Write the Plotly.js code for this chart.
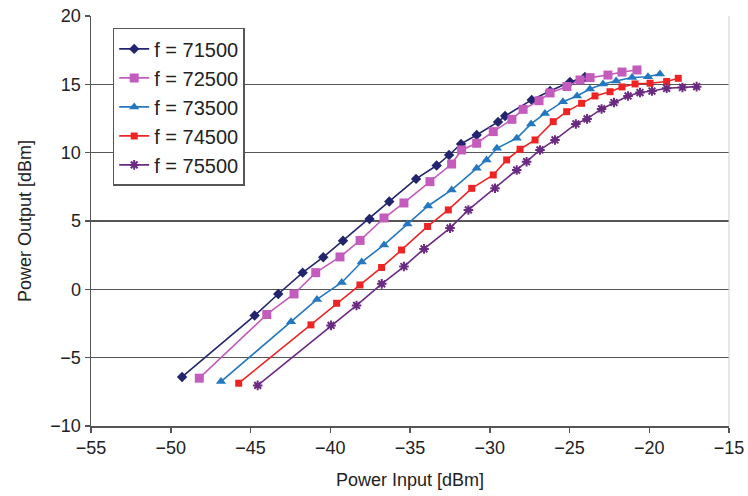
<!DOCTYPE html>
<html>
<head>
<meta charset="utf-8">
<script src="https://cdn.plot.ly/plotly-3.0.1.min.js"></script>
<style>html,body{margin:0;padding:0;background:#fff;}#chart{width:748px;height:496px;}</style>
</head>
<body>
<div id="chart"></div>
<script>
// Power Input [dBm] / Power Output [dBm] per frequency
const names = ["f = 71500", "f = 72500", "f = 73500", "f = 74500", "f = 75500"];

const x71500 = [-49.29,-44.74,-43.26,-41.73,-40.44,-39.20,-37.54,-36.30,-34.62,-33.33,-32.55,-31.80,-30.82,-29.48,-29.04,-27.37,-26.22,-24.97,-24.03];
const y71500 = [-6.41,-1.92,-0.34,1.22,2.35,3.56,5.15,6.43,8.08,9.06,9.83,10.64,11.29,12.25,12.68,13.86,14.51,15.17,15.54];

const x72500 = [-48.21,-43.98,-42.27,-40.91,-39.39,-38.13,-36.63,-35.38,-33.75,-32.39,-31.76,-30.82,-29.78,-28.61,-27.91,-26.91,-26.22,-25.16,-24.34,-23.71,-22.59,-21.71,-20.77];
const y72500 = [-6.50,-1.84,-0.34,1.22,2.37,3.58,5.22,6.32,7.88,9.17,10.20,10.69,11.54,12.44,13.17,13.80,14.37,14.84,15.32,15.49,15.68,15.90,16.05];

const x73500 = [-46.85,-42.46,-40.83,-39.28,-38.03,-36.63,-35.16,-33.87,-32.39,-30.82,-30.20,-29.55,-28.31,-27.41,-26.54,-25.41,-24.53,-23.72,-22.90,-22.08,-21.08,-20.08,-19.33];
const y73500 = [-6.75,-2.38,-0.74,0.50,2.00,3.25,4.78,6.10,7.27,8.86,9.47,10.32,11.05,12.10,12.87,13.73,14.15,14.66,15.03,15.25,15.50,15.56,15.76];

const x74500 = [-45.74,-41.21,-39.60,-38.14,-36.78,-35.53,-33.90,-32.60,-31.13,-29.78,-28.94,-28.10,-27.16,-26.02,-25.18,-24.24,-23.40,-22.46,-21.71,-20.89,-19.95,-18.91,-18.18];
const y74500 = [-6.87,-2.60,-1.02,0.32,1.60,2.88,4.60,5.81,7.39,8.37,9.47,10.25,10.93,12.27,13.00,13.61,14.15,14.46,14.81,15.03,15.08,15.21,15.44];

const x75500 = [-44.55,-39.95,-38.35,-36.77,-35.38,-34.12,-32.49,-31.34,-29.67,-28.31,-27.69,-26.85,-25.91,-24.60,-23.90,-22.99,-22.21,-21.33,-20.58,-19.83,-18.91,-17.92,-17.03];
const y75500 = [-7.03,-2.64,-1.18,0.40,1.67,2.96,4.48,5.81,7.40,8.73,9.34,10.20,10.93,12.10,12.47,13.20,13.67,14.15,14.40,14.51,14.71,14.77,14.83];

const xs = [x71500, x72500, x73500, x74500, x75500];
const ys = [y71500, y72500, y73500, y74500, y75500];
const colors = ["#22246e", "#c35cbd", "#2478c0", "#ee2424", "#6b2a82"];
const symbols = ["diamond", "square", "triangle-up", "square", "asterisk-open"];
const sizes = [8, 9, 9, 7, 8];

const traces = names.map((n, i) => ({
  type: "scatter",
  mode: "lines+markers",
  name: n,
  legendgroup: "g" + i,
  x: xs[i],
  y: ys[i],
  line: {color: colors[i], width: 1.6},
  marker: {symbol: symbols[i], size: sizes[i], color: colors[i], line: {color: colors[i], width: i === 4 ? 2 : 0}}
}));

const font = "Liberation Sans, Arial, Helvetica, sans-serif";

const layout = {
  width: 748, height: 496,
  margin: {l: 91, r: 19, t: 16, b: 70},
  paper_bgcolor: "#fff", plot_bgcolor: "#fff",
  font: {family: font, size: 18, color: "#222"},
  showlegend: true,
  legend: {
    x: 0.034, y: 0.971, xanchor: "left", yanchor: "top",
    bgcolor: "#fff", bordercolor: "#555", borderwidth: 1.5,
    font: {family: font, size: 20, color: "#222"},
    traceorder: "grouped", tracegroupgap: 0
  },
  xaxis: {
    range: [-55, -15], dtick: 5, tick0: -55,
    showgrid: false, zeroline: false,
    showline: true, linecolor: "#555", linewidth: 1.5,
    ticks: "outside", ticklen: 5, tickcolor: "#555", tickwidth: 1.5,
    tickfont: {family: font, size: 18, color: "#222"},
    title: {text: "Power Input [dBm]", font: {family: font, size: 18, color: "#222"}, standoff: 16}
  },
  yaxis: {
    range: [-10, 20], dtick: 5, tick0: -10,
    showgrid: true, gridcolor: "#555", gridwidth: 1.6,
    zeroline: false,
    showline: true, linecolor: "#555", linewidth: 1.5,
    ticks: "outside", ticklen: 5, tickcolor: "#555", tickwidth: 1.5,
    tickfont: {family: font, size: 18, color: "#222"},
    title: {text: "Power Output [dBm]", font: {family: font, size: 18, color: "#222"}, standoff: 14}
  },
  shapes: [
    {type: "line", xref: "paper", yref: "paper", x0: 1, x1: 1, y0: 0, y1: 1, line: {color: "#d0d0d0", width: 1}}
  ]
};

Plotly.newPlot("chart", traces, layout, {displayModeBar: false, staticPlot: true});
</script>
</body>
</html>
